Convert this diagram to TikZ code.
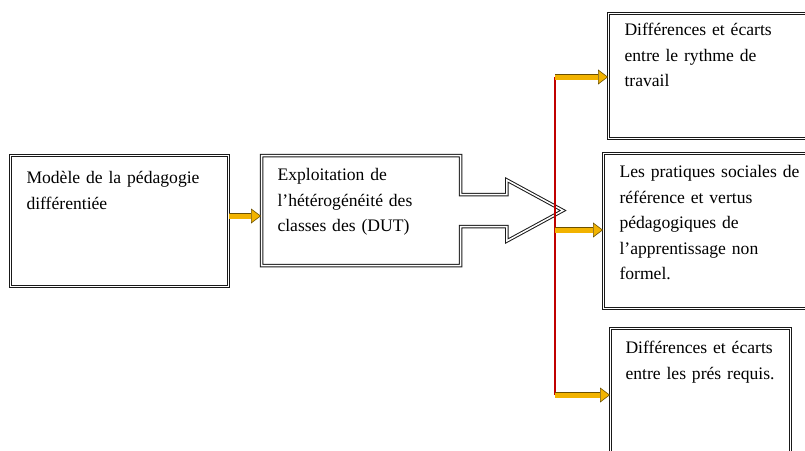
\documentclass[tikz,border=0pt]{standalone}
\usepackage{fontspec}
\setmainfont{Liberation Serif}
\usetikzlibrary{positioning,arrows.meta,shapes.arrows}
\definecolor{amber}{HTML}{F2B300}
\definecolor{amberdark}{HTML}{6B5000}
\definecolor{bar}{HTML}{C00000}

\begin{document}
\begin{tikzpicture}[x=1pt, y=-1pt,
  box/.style={draw=black!90, line width=1pt, double=white, double distance=1.5pt,
              anchor=north west, align=left, inner xsep=16pt, inner ysep=8pt,
              font=\fontsize{17.6pt}{25.5pt}\selectfont},
  callout/.style={box, shape=arrow box, arrow box arrows={east:102pt},
              arrow box shaft width=32pt, arrow box head extend=14.5pt,
              arrow box head indent=0pt, arrow box tip angle=57},
  arr/.style={draw=amberdark, line width=0.6pt, double=amber, double distance=5pt,
              -{Triangle[length=10pt, width=15pt, fill=amber, color=amberdark, line width=0.6pt]}},
  bar/.style={draw=bar, line width=2.4pt}]
  \clip (0,0) rectangle (805,450);
  % pixel grid: x to the right, y downwards
  \node[box, text width=186pt, text height=20pt, text depth=95pt] (modele) at (10,155)
       {Modèle de la pédagogie\\ différentiée};
  \node[callout, text width=167pt, text height=17pt, text depth=77pt] (exploit) at (261,155)
       {Exploitation de\\ l’hétérogénéité des\\ classes des (DUT)};
  \node[box, text width=183pt, text height=14pt, text depth=95pt] (rythme) at (608,13)
       {Différences et écarts\\ entre le rythme de\\ travail};
  \node[box, text width=188pt, text height=16pt, text depth=123pt] (pratiques) at (603,153)
       {Les pratiques sociales de\\ référence et vertus\\ pédagogiques de\\ l’apprentissage non\\ formel.};
  \node[box, inner xsep=15pt, text width=150pt, text height=17pt, text depth=109pt] (prerequis) at (610,328)
       {Différences et écarts\\ entre les prés requis.};
  \coordinate (brtop) at (555,77);
  \coordinate (brmid) at (555,230);
  \coordinate (brbot) at (555,395);
  \draw[bar] (brtop) -- (brbot);
  \draw[arr] ([yshift=5pt]modele.east) -- ([yshift=5pt]modele.east -| exploit.west);
  \draw[arr] (brtop) -- (brtop -| rythme.west);
  \draw[arr] (brmid) -- (brmid -| pratiques.west);
  \draw[arr] (brbot) -- (brbot -| prerequis.west);
\end{tikzpicture}
\end{document}
